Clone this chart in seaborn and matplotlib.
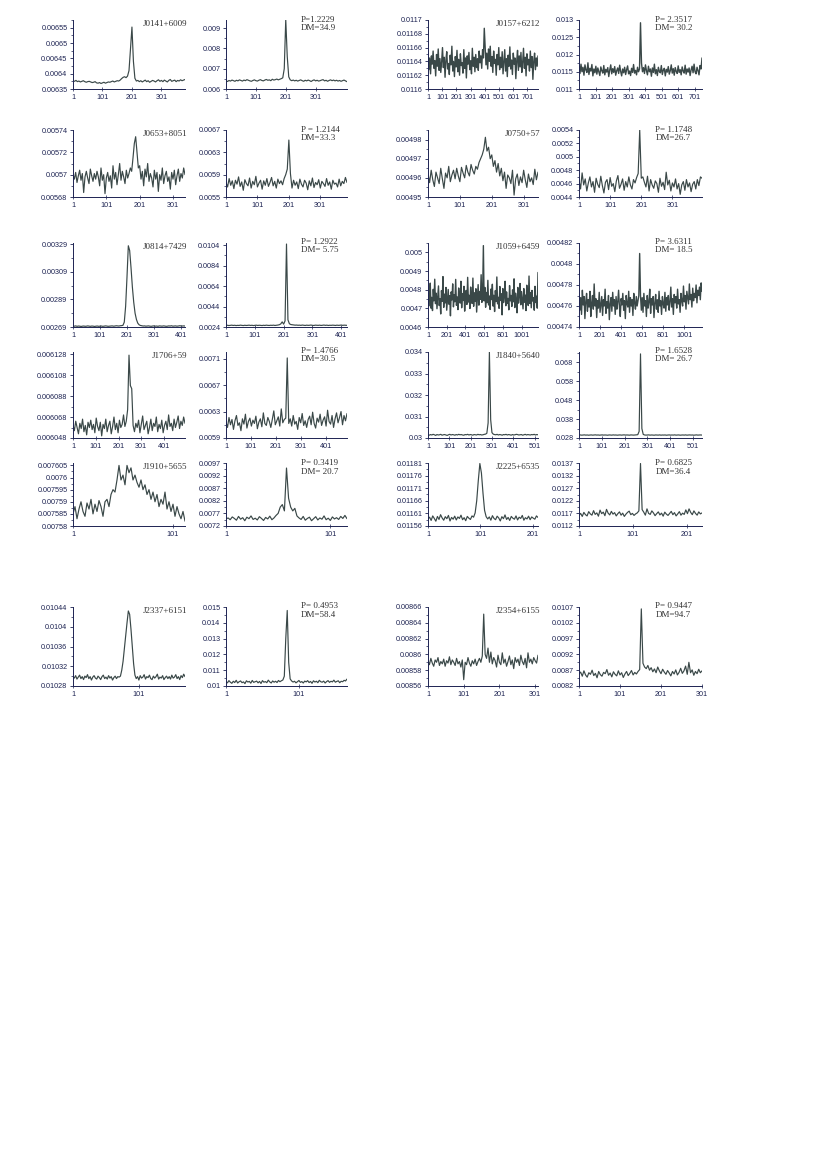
import numpy as np
import pandas as pd
import matplotlib
matplotlib.use("Agg")
import matplotlib.pyplot as plt
import seaborn as sns
from matplotlib.ticker import FixedLocator

sns.set_style("ticks")
plt.rcParams["font.family"] = ["Liberation Sans", "DejaVu Sans"]

# Folded pulse profiles (scaled integers, see unit per panel)
j0141_a = [6377, 6375, 6378, 6374, 6376, 6373, 6375, 6377, 6374, 6372, 6374, 6375, 6373, 6371, 6372, 6374,
           6370, 6369, 6371, 6368, 6370, 6372, 6369, 6371, 6373, 6372, 6374, 6376, 6373, 6375, 6377, 6376,
           6379, 6384, 6388, 6390, 6387, 6392, 6410, 6480, 6552, 6440, 6385, 6376,
           6378, 6374, 6377, 6373, 6376, 6379, 6374, 6377, 6372, 6375, 6378, 6376, 6373, 6377, 6380, 6375,
           6378, 6374, 6379, 6376, 6373, 6378, 6381, 6375, 6377, 6379, 6374, 6378, 6376, 6380, 6377, 6379, 6381]
j0141_b = [640, 637, 642, 639, 644, 641, 638, 643, 640, 645, 642, 639, 644, 641, 646, 643, 640, 638, 642, 645,
           641, 639, 643, 646, 642, 640, 644, 647, 643, 645, 641, 648, 644, 646, 649, 645, 648, 651,
           655, 700, 942, 760, 660, 645,
           641, 644, 640, 643, 639, 642, 645, 641, 638, 643, 640, 644, 641, 637, 642, 645, 640, 643, 639, 641,
           644, 646, 640, 643, 638, 642, 645, 641, 644, 640, 643, 639, 642, 638, 641, 644, 640, 636]
j0157_a = [11652, 11628, 11645, 11622, 11648, 11636, 11655, 11630, 11641, 11619,
           11650, 11633, 11658, 11627, 11644, 11624, 11639, 11660, 11631, 11646,
           11617, 11642, 11654, 11629, 11637, 11621, 11649, 11635, 11662, 11626,
           11640, 11618, 11647, 11632, 11656, 11625, 11643, 11620, 11651, 11634,
           11638, 11623, 11657, 11630, 11645, 11616, 11648, 11636, 11653, 11628,
           11641, 11622, 11659, 11633, 11646, 11625, 11650, 11631, 11644, 11627,
           11655, 11638, 11648, 11630, 11657, 11645,
           11688, 11660, 11635,
           11652, 11629, 11658, 11640, 11662, 11633, 11647, 11624, 11655, 11637,
           11643, 11620, 11650, 11635, 11660, 11628, 11646, 11631, 11654, 11622,
           11639, 11657, 11626, 11644, 11618, 11649, 11633, 11661, 11629, 11642,
           11621, 11652, 11636, 11645, 11615, 11640, 11656, 11627, 11648, 11632,
           11653, 11624, 11638, 11659, 11630, 11646, 11619, 11651, 11635, 11643,
           11626, 11655, 11631, 11647, 11614, 11640, 11652, 11628, 11645, 11633, 11648]
j0157_b = [1168, 1145, 1172, 1150, 1163, 1140, 1170, 1155, 1148, 1176,
           1142, 1160, 1152, 1171, 1138, 1158, 1147, 1166, 1143, 1161,
           1150, 1139, 1164, 1153, 1146, 1168, 1141, 1157, 1149, 1162,
           1136, 1155, 1170, 1144, 1159, 1148, 1165, 1140, 1153, 1161,
           1145, 1169, 1151, 1138, 1158, 1147, 1163, 1142, 1156, 1167,
           1144, 1152, 1139, 1160, 1148, 1171, 1146, 1154, 1141, 1163, 1150, 1158,
           1292, 1175, 1150,
           1162, 1145, 1170, 1153, 1141, 1166, 1150, 1158, 1137, 1161,
           1148, 1172, 1144, 1156, 1139, 1163, 1151, 1147, 1168, 1142,
           1155, 1160, 1138, 1157, 1149, 1165, 1143, 1153, 1170, 1146,
           1159, 1140, 1162, 1151, 1145, 1167, 1148, 1156, 1141, 1164,
           1152, 1146, 1169, 1143, 1158, 1149, 1161, 1139, 1155, 1166,
           1147, 1172, 1150, 1144, 1163, 1153, 1141, 1168, 1158, 1190]
j0653_a = [57000, 56960, 57020, 56930, 56990, 57040, 56950, 57010, 56840, 56980,
           57030, 56970, 56920, 57050, 56990, 56940, 57010, 56960, 57030, 56980,
           56900, 57060, 56950, 57000, 56830, 56970, 57020, 56940, 56990, 56880,
           57080, 56960, 57020, 56910, 57000, 57100, 56950, 57030, 56980, 56920,
           57040, 56970, 57010, 57060, 57030,
           57150, 57280, 57340, 57200, 57060,
           57080, 56960, 57030, 56900, 57050, 56980, 57100, 56940, 57010, 56970,
           56890, 57040, 56960, 57020, 56850, 57000, 56950, 57060, 56920, 56990,
           57030, 56940, 56980, 56870, 57020, 56960, 57040, 56910, 56990, 57050,
           56940, 57010, 56970, 57060, 57000]
j0653_b = [576, 568, 583, 571, 579, 565, 580, 573, 586, 569, 577, 562, 581, 574, 570, 584, 566, 578, 572, 587,
           568, 575, 580, 564, 579, 571, 583, 569, 576, 585, 570, 578, 566, 582, 574, 579, 572, 583,
           590, 600, 652, 592, 566, 580,
           571, 577, 565, 582, 573, 568, 580, 575, 563, 579, 570, 584, 567, 576, 572, 581, 566, 578, 574, 569,
           583, 571, 577, 564, 580, 573, 575, 568, 582, 570, 578, 574, 585, 576]
j0750_a = [49620, 49575, 49640, 49590, 49555, 49630, 49600, 49570, 49650, 49595,
           49545, 49625, 49600, 49660, 49580, 49615, 49640, 49595, 49650, 49610,
           49580, 49655, 49625, 49600, 49665, 49630, 49610, 49670, 49640, 49620,
           49660, 49645, 49680,
           49700, 49720, 49750, 49812, 49740, 49760, 49700, 49720, 49660, 49690, 49630, 49675,
           49610, 49650, 49585, 49630, 49545, 49615, 49600, 49570, 49640, 49510,
           49595, 49620, 49560, 49605, 49575, 49640, 49590, 49550, 49620, 49580,
           49600, 49565, 49645, 49590, 49630]
j0750_b = [465, 452, 476, 458, 467, 449, 461, 470, 455, 463, 447, 468, 459, 454, 471, 457, 446, 462, 466, 451,
           469, 456, 460, 448, 464, 472, 453, 459, 467, 450, 463, 455, 470, 458, 452, 466, 461, 469,
           475, 540, 468, 470,
           462, 455, 471, 449, 466, 458, 453, 464, 460, 447, 468, 456, 462, 451, 477, 458, 465, 449, 461, 455,
           467, 452, 460, 444, 458, 463, 450, 466, 455, 461, 448, 459, 463, 452, 466, 457, 470, 468]
j0814_a = [2697, 2696, 2698, 2695, 2697, 2696, 2694, 2696, 2697, 2695, 2696, 2698, 2696, 2695, 2697, 2696,
           2694, 2696, 2697, 2695, 2696, 2697, 2695, 2696, 2698, 2697, 2695, 2696, 2697, 2698, 2696, 2697,
           2699, 2698, 2697, 2699, 2700,
           2702, 2725, 2840, 3050, 3280, 3245, 3120, 2980, 2870, 2790, 2745, 2718, 2706, 2701,
           2699, 2697, 2698, 2696, 2697, 2698, 2696, 2695, 2697, 2698, 2696, 2697, 2695, 2698, 2697, 2696,
           2698, 2697, 2695, 2696, 2698, 2697, 2699, 2696, 2697, 2698, 2696, 2697, 2699, 2698, 2697, 2698, 2697]
j0814_b = [255, 257, 254, 256, 258, 255, 257, 254, 256, 255, 258, 256, 254, 257, 255, 256, 258, 255, 257, 254,
           256, 258, 255, 257, 256, 254, 257, 255, 258, 256, 255, 257, 256, 258, 255, 257, 259, 262, 270,
           290, 268, 300, 1050, 310, 272, 264,
           262, 260, 258, 259, 257, 258, 256, 259, 257, 255, 258, 256, 257, 259, 256, 255, 258, 257, 256, 258,
           255, 257, 259, 256, 258, 255, 257, 256, 258, 257, 255, 258, 256, 257, 259, 256, 258, 257, 256]
j1059_a = [4790, 4712, 4768, 4835, 4701, 4759, 4688, 4802, 4740, 4856,
           4725, 4781, 4698, 4763, 4820, 4715, 4752, 4670, 4795, 4738,
           4870, 4705, 4776, 4729, 4812, 4690, 4748, 4801, 4722, 4767,
           4660, 4788, 4745, 4831, 4708, 4772, 4735, 4855, 4716, 4761,
           4693, 4809, 4750, 4728, 4845, 4703, 4779, 4742, 4818, 4685,
           4757, 4796, 4721, 4866, 4734, 4770, 4699, 4814, 4744, 4726,
           4862, 4711, 4783, 4738, 4805, 4680, 4759, 4827, 4717, 4790,
           4748, 4880, 4732, 4775,
           5036,
           4740, 4812, 4706, 4785, 4730, 4850, 4718, 4766, 4694, 4803,
           4747, 4829, 4712, 4770, 4683, 4795, 4736, 4868, 4724, 4759,
           4700, 4817, 4742, 4778, 4665, 4806, 4731, 4762, 4845, 4714,
           4788, 4727, 4753, 4692, 4822, 4740, 4769, 4710, 4799, 4735,
           4858, 4704, 4781, 4746, 4676, 4812, 4728, 4764, 4833, 4719,
           4790, 4742, 4697, 4806, 4733, 4771, 4688, 4824, 4748, 4715,
           4873, 4726, 4783, 4703, 4796, 4739, 4757, 4690, 4818, 4731,
           4765, 4701, 4892]
j1059_b = [47700, 47560, 47680, 47520, 47750, 47610, 47690, 47480, 47640, 47720,
           47550, 47660, 47590, 47740, 47500, 47630, 47700, 47570, 47810, 47600,
           47670, 47490, 47650, 47580, 47730, 47540, 47620, 47690, 47510, 47660,
           47600, 47760, 47530, 47640, 47580, 47700, 47470, 47620, 47680, 47550,
           47730, 47600, 47660, 47520, 47690, 47570, 47640, 47750, 47590, 47500,
           47670, 47610, 47720, 47560, 47650, 47480, 47700, 47620, 47590, 47740,
           47540, 47680, 47600, 47660, 47510, 47720, 47630, 47570, 47690, 47600,
           47650, 47700,
           48100, 47700, 47560,
           47680, 47540, 47720, 47600, 47650, 47500, 47700, 47580, 47640, 47760,
           47530, 47670, 47610, 47690, 47490, 47630, 47710, 47570, 47660, 47540,
           47740, 47600, 47650, 47520, 47690, 47620, 47580, 47730, 47550, 47680,
           47610, 47700, 47560, 47640, 47780, 47590, 47670, 47520, 47710, 47630,
           47690, 47580, 47760, 47620, 47660, 47540, 47720, 47650, 47600, 47790,
           47640, 47700, 47570, 47740, 47680, 47620, 47810, 47660, 47710, 47590,
           47770, 47650, 47720, 47680, 47800, 47630, 47750, 47700, 47780, 47660,
           47820, 47740]
j1706_a = [60600, 60550, 60640, 60580, 60520, 60620, 60570, 60660, 60540, 60600,
           60510, 60630, 60580, 60650, 60560, 60610, 60530, 60670, 60590, 60550,
           60630, 60500, 60610, 60570, 60660, 60540, 60600, 60640, 60520, 60590,
           60680, 60560, 60620, 60530, 60650, 60580, 60610, 60700, 60590,
           60640, 60750, 61270, 60980, 60950, 60600, 60540,
           60620, 60580, 60650, 60530, 60610, 60690, 60560, 60600, 60640, 60520,
           60580, 60660, 60550, 60620, 60590, 60680, 60540, 60610, 60570, 60650,
           60530, 60600, 60640, 60560, 60700, 60590, 60620, 60550, 60660, 60580,
           60630, 60690, 60570, 60640, 60600, 60680, 60620]
j1706_b = [614, 606, 621, 610, 618, 603, 616, 624, 609, 613, 601, 619, 611, 626, 605, 615, 620, 608, 617, 612,
           623, 604, 614, 619, 607, 628, 612, 609, 621, 615, 606, 618, 631, 610, 616, 622, 608, 634, 613, 618,
           620, 711, 612,
           619, 608, 624, 611, 615, 603, 621, 613, 627, 609, 616, 606, 618, 623, 610, 629, 612, 605, 620, 614,
           626, 609, 617, 622, 608, 632, 615, 611, 624, 606, 619, 628, 613, 621, 630, 610, 624, 616, 627]
j1840_a = [3015, 3013, 3016, 3014, 3017, 3015, 3012, 3016, 3014, 3015, 3017, 3013, 3015, 3016, 3014, 3012,
           3015, 3017, 3014, 3016, 3015, 3013, 3016, 3014, 3017, 3015, 3016, 3014, 3013, 3016, 3015, 3017,
           3014, 3016, 3015, 3013, 3016, 3015, 3014, 3017, 3015, 3016, 3014, 3015, 3017, 3018, 3022,
           3070, 3400, 3085, 3025,
           3018, 3016, 3015, 3017, 3014, 3016, 3015, 3013, 3016, 3015, 3017, 3014, 3016, 3015, 3013, 3016,
           3014, 3015, 3017, 3016, 3014, 3015, 3016, 3013, 3015, 3017, 3014, 3016, 3015, 3014, 3016, 3015,
           3017, 3014, 3016, 3015]
j1840_b = [2955, 2962, 2950, 2958, 2965, 2952, 2960, 2948, 2957, 2963, 2951, 2959, 2966, 2954, 2961, 2949,
           2958, 2964, 2953, 2960, 2956, 2947, 2962, 2958, 2951, 2965, 2955, 2960, 2949, 2957, 2963, 2952,
           2959, 2966, 2954, 2961, 2956, 2950, 2964, 2958, 2953, 2960, 2967, 2975,
           3150, 7250, 3300, 2990,
           2960, 2953, 2958, 2965, 2951, 2960, 2956, 2948, 2962, 2957, 2953, 2964, 2950, 2959, 2955, 2961,
           2948, 2957, 2963, 2952, 2960, 2954, 2966, 2951, 2958, 2962, 2949, 2956, 2961, 2953, 2965, 2950,
           2958, 2963, 2955, 2960, 2948, 2957, 2964, 2952, 2959, 2961, 2955]
j1910_a = [75850, 75880, 75830, 75870, 75900, 75860, 75840, 75895, 75870, 75910, 75850, 75890, 75860, 75905,
           75880, 75840, 75900,
           75910, 75880, 75930, 75950, 75940, 75990,
           76050, 75990, 76010, 75970, 76050, 76020, 76040, 75990, 76010,
           75980, 75960, 75990, 75950, 75970, 75930, 75950, 75910, 75940,
           75900, 75930, 75880, 75910, 75890, 75940, 75870, 75900, 75860, 75890, 75840, 75880, 75850, 75830,
           75860, 75820]
j1910_b = [748, 752, 745, 756, 750, 743, 758, 747, 753, 741, 755, 749, 760, 746, 751, 744, 757, 750, 742, 754,
           748, 759, 745, 752, 762, 770,
           795, 805, 780, 950, 830, 795, 780, 790, 760,
           752, 746, 758, 743, 750, 755, 741, 749, 757, 744, 752, 747, 760, 745, 751, 742, 756, 748, 753, 746,
           758, 750, 762, 749]
j2225_a = [11588, 11595, 11582, 11600, 11590, 11579, 11598, 11586, 11605, 11592, 11583, 11597, 11589, 11602,
           11580, 11594, 11587, 11599, 11584, 11596, 11590, 11603, 11585, 11593, 11581, 11598, 11591, 11586,
           11600, 11595,
           11612, 11660, 11740, 11808, 11770, 11690, 11622, 11597,
           11588, 11596, 11583, 11601, 11590, 11585, 11599, 11592, 11580, 11597, 11589, 11604, 11586, 11594,
           11582, 11598, 11591, 11587, 11600, 11584, 11595, 11590, 11602, 11583, 11593, 11588, 11599, 11585,
           11596, 11591, 11587, 11600, 11594]
j2225_b = [1162, 1170, 1158, 1174, 1165, 1160, 1177, 1168, 1163, 1181, 1166, 1172, 1159, 1183, 1169, 1175,
           1161, 1186, 1171, 1164, 1178, 1167, 1173, 1160, 1169, 1176, 1163, 1171, 1158, 1167, 1174, 1179,
           1165, 1170, 1162, 1168, 1172,
           1180, 1368, 1185, 1175,
           1163, 1188, 1170, 1166, 1180, 1172, 1161, 1169, 1176, 1164, 1171, 1159, 1175, 1167, 1162, 1170,
           1178, 1165, 1173, 1160, 1168, 1177, 1163, 1171, 1166, 1184, 1169, 1188, 1174, 1165, 1180, 1170,
           1163, 1176, 1168, 1172]
j2337_a = [102990, 102960, 103010, 102940, 102980, 103020, 102950, 102990, 102930, 103000,
           102970, 103030, 102950, 102990, 102920, 102980, 103010, 102960, 102940, 103000,
           102970, 102930, 102990, 103020, 102950, 102980, 102940, 103010, 102960, 102990,
           102920, 102970, 103000, 102950, 102990, 102980,
           103000, 103120, 103300, 103560, 103820, 104080, 104320, 104250, 103950, 103600, 103250, 103020,
           102950, 102990, 102920, 103010, 102960, 102980, 103030, 102940, 102990, 102970,
           103020, 102950, 102930, 103000, 102960, 102990, 103040, 102940, 102980, 102960,
           103010, 102930, 102970, 103000, 102950, 102990, 102940, 103020, 102960, 102980,
           103030, 102950, 102990, 102930, 103010, 102970, 103040, 102990]
j2337_b = [1028, 1020, 1034, 1024, 1017, 1030, 1022, 1036, 1019, 1027, 1032, 1021, 1026, 1015, 1033, 1025,
           1029, 1018, 1035, 1023, 1027, 1031, 1020, 1029, 1016, 1034, 1024, 1028, 1021, 1037, 1026, 1019,
           1032, 1024, 1030, 1022, 1035, 1027, 1033, 1038,
           1062, 1300, 1478, 1150, 1045,
           1032, 1025, 1030, 1020, 1027, 1035, 1023, 1028, 1019, 1031, 1026, 1034, 1022, 1029, 1017, 1033,
           1025, 1030, 1021, 1036, 1027, 1024, 1031, 1019, 1028, 1034, 1023, 1030, 1026, 1037, 1024, 1029,
           1033, 1021, 1030, 1027, 1036, 1032, 1044]
j2354_a = [85920, 85870, 85950, 85890, 85850, 85930, 85900, 85960, 85860, 85910,
           85880, 85940, 85850, 85920, 85890, 85970, 85870, 85930, 85900, 85860,
           85950, 85880, 85910, 85840, 85930, 85680, 85900, 85870, 85960, 85890,
           85850, 85920, 85880, 85940, 85860, 85910, 85950, 85900, 85980,
           86510, 86000, 85950, 86080, 85900, 86030,
           85880, 85960, 85920, 85840, 85990, 85900, 85870, 86020, 85890, 85940,
           85850, 85910, 85980, 85870, 85930, 85820, 85960, 85900, 85940, 85860,
           85990, 85910, 85870, 85950, 85830, 86020, 85900, 85940, 85880, 85960, 85920, 85890, 85990]
j2354_b = [858, 864, 851, 868, 855, 848, 862, 857, 870, 853, 860, 846, 866, 856, 851, 863, 859, 872, 854, 861,
           849, 865, 857, 852, 868, 855, 862, 847, 858, 866, 853, 860, 869, 855, 863, 858, 866, 872,
           1064, 892, 880, 875, 885,
           870, 878, 865, 874, 862, 880, 868, 859, 873, 864, 857, 869, 861, 852, 866, 858, 871, 855, 863, 876,
           860, 868, 883, 857, 895, 862, 871, 854, 866, 859, 873, 862, 868]

# y tick labels, x tick labels and captions
yt = {
    "j0141_a": ["0.00635", "0.0064", "0.00645", "0.0065", "0.00655"],
    "j0141_b": ["0.006", "0.007", "0.008", "0.009"],
    "j0157_a": ["0.0116", "0.01162", "0.01164", "0.01166", "0.01168", "0.0117"],
    "j0157_b": ["0.011", "0.0115", "0.012", "0.0125", "0.013"],
    "j0653_a": ["0.00568", "0.0057", "0.00572", "0.00574"],
    "j0653_b": ["0.0055", "0.0059", "0.0063", "0.0067"],
    "j0750_a": ["0.00495", "0.00496", "0.00497", "0.00498"],
    "j0750_b": ["0.0044", "0.0046", "0.0048", "0.005", "0.0052", "0.0054"],
    "j0814_a": ["0.00269", "0.00289", "0.00309", "0.00329"],
    "j0814_b": ["0.0024", "0.0044", "0.0064", "0.0084", "0.0104"],
    "j1059_a": ["0.0046", "0.0047", "0.0048", "0.0049", "0.005"],
    "j1059_b": ["0.00474", "0.00476", "0.00478", "0.0048", "0.00482"],
    "j1706_a": ["0.006048", "0.006068", "0.006088", "0.006108", "0.006128"],
    "j1706_b": ["0.0059", "0.0063", "0.0067", "0.0071"],
    "j1840_a": ["0.03", "0.031", "0.032", "0.033", "0.034"],
    "j1840_b": ["0.028", "0.038", "0.048", "0.058", "0.068"],
    "j1910_a": ["0.00758", "0.007585", "0.00759", "0.007595", "0.0076", "0.007605"],
    "j1910_b": ["0.0072", "0.0077", "0.0082", "0.0087", "0.0092", "0.0097"],
    "j2225_a": ["0.01156", "0.01161", "0.01166", "0.01171", "0.01176", "0.01181"],
    "j2225_b": ["0.0112", "0.0117", "0.0122", "0.0127", "0.0132", "0.0137"],
    "j2337_a": ["0.01028", "0.01032", "0.01036", "0.0104", "0.01044"],
    "j2337_b": ["0.01", "0.011", "0.012", "0.013", "0.014", "0.015"],
    "j2354_a": ["0.00856", "0.00858", "0.0086", "0.00862", "0.00864", "0.00866"],
    "j2354_b": ["0.0082", "0.0087", "0.0092", "0.0097", "0.0102", "0.0107"],
}
y_top = {
    "j0141_a": 0.006575, "j0141_b": 0.0094, "j0157_a": 0.0117, "j0157_b": 0.013,
    "j0653_a": 0.00574, "j0653_b": 0.0067, "j0750_a": 0.004985, "j0750_b": 0.0054,
    "j0814_a": 0.0033, "j0814_b": 0.0106, "j1059_a": 0.00505, "j1059_b": 0.00482,
    "j1706_a": 0.00613, "j1706_b": 0.0072, "j1840_a": 0.034, "j1840_b": 0.0735,
    "j1910_a": 0.007606, "j1910_b": 0.0097, "j2225_a": 0.01181, "j2225_b": 0.0137,
    "j2337_a": 0.01044, "j2337_b": 0.015, "j2354_a": 0.00866, "j2354_b": 0.0107,
}
xt_400 = [1, 101, 201, 301]
xt_700 = [1, 101, 201, 301, 401, 501, 601, 701]
xt_401 = [1, 101, 201, 301, 401]
xt_1001 = [1, 201, 401, 601, 801, 1001]
xt_501 = [1, 101, 201, 301, 401, 501]
xt_101 = [1, 101]
xt_201 = [1, 101, 201]

names = ["J0141+6009", "J0157+6212", "J0653+8051", "J0750+57", "J0814+7429", "J1059+6459",
         "J1706+59", "J1840+5640", "J1910+5655", "J2225+6535", "J2337+6151", "J2354+6155"]
periods = ["P=1.2229", "P= 2.3517", "P = 1.2144", "P= 1.1748", "P= 1.2922", "P= 3.6311",
           "P= 1.4766", "P= 1.6528", "P= 0.3419", "P= 0.6825", "P= 0.4953", "P= 0.9447"]
dms = ["DM=34.9", "DM= 30.2", "DM=33.3", "DM=26.7", "DM= 5.75", "DM= 18.5",
       "DM=30.5", "DM= 26.7", "DM= 20.7", "DM=36.4", "DM=58.4", "DM=94.7"]

# (key, values, unit, bin spacing, x ticks)
pairs = [
    (("j0141_a", j0141_a, 1e-6, 5, xt_400), ("j0141_b", j0141_b, 1e-5, 5, xt_400)),
    (("j0157_a", j0157_a, 1e-6, 6, xt_700), ("j0157_b", j0157_b, 1e-5, 6, xt_700)),
    (("j0653_a", j0653_a, 1e-7, 4, xt_400), ("j0653_b", j0653_b, 1e-5, 5, xt_400)),
    (("j0750_a", j0750_a, 1e-7, 5, xt_400), ("j0750_b", j0750_b, 1e-5, 5, xt_400)),
    (("j0814_a", j0814_a, 1e-6, 5, xt_401), ("j0814_b", j0814_b, 1e-5, 5, xt_401)),
    (("j1059_a", j1059_a, 1e-6, 8, xt_1001), ("j1059_b", j1059_b, 1e-7, 8, xt_1001)),
    (("j1706_a", j1706_a, 1e-7, 6, xt_401), ("j1706_b", j1706_b, 1e-5, 6, xt_401)),
    (("j1840_a", j1840_a, 1e-5, 6, xt_501), ("j1840_b", j1840_b, 1e-5, 6, xt_501)),
    (("j1910_a", j1910_a, 1e-7, 2, xt_101), ("j1910_b", j1910_b, 1e-5, 2, xt_101)),
    (("j2225_a", j2225_a, 1e-6, 3, xt_201), ("j2225_b", j2225_b, 1e-5, 3, xt_201)),
    (("j2337_a", j2337_a, 1e-7, 2, xt_101), ("j2337_b", j2337_b, 1e-5, 2, xt_101)),
    (("j2354_a", j2354_a, 1e-7, 4, xt_400), ("j2354_b", j2354_b, 1e-5, 4, xt_400)),
]
dense = {"j0157_a", "j0157_b", "j1059_a", "j1059_b"}

INK = "#1d2352"
LINE = "#3a4848"
SERIF = ["Liberation Serif", "DejaVu Serif"]

# pixel layout of the page (830 x 1174)
W, H = 830, 1174
rows = [(20, 89), (130, 197), (243, 327), (352, 438), (463, 526), (607, 686)]
cols = [(73, 185), (226, 347), (428, 538), (579, 702)]


def draw_panel(ax, key, vals, unit, step, xticks):
    flux = np.asarray(vals, dtype=float) * unit
    df = pd.DataFrame({"bin": 1 + step * np.arange(len(flux)), "flux": flux})
    sns.lineplot(data=df, x="bin", y="flux", ax=ax, color=LINE,
                 linewidth=1.0 if key in dense else 0.85, estimator=None, errorbar=None)
    labels = yt[key]
    ticks = [float(s) for s in labels]
    ax.set_xlim(1, df["bin"].iloc[-1])
    ax.set_ylim(ticks[0], y_top[key])
    ax.set_yticks(ticks)
    ax.set_yticklabels(labels)
    mids = [(a + b) / 2 for a, b in zip(ticks[:-1], ticks[1:])]
    if ticks[-1] + (ticks[1] - ticks[0]) / 2 <= y_top[key] + 1e-12:
        mids.append(ticks[-1] + (ticks[1] - ticks[0]) / 2)
    ax.yaxis.set_minor_locator(FixedLocator(mids))
    ax.set_xticks(xticks)
    ax.set_xticklabels([str(v) for v in xticks])
    ax.set_xlabel("")
    ax.set_ylabel("")
    for s in ("top", "right"):
        ax.spines[s].set_visible(False)
    for s in ("left", "bottom"):
        ax.spines[s].set_color(INK)
        ax.spines[s].set_linewidth(0.7)
    ax.tick_params(axis="y", which="major", length=2.5, width=0.6, color=INK,
                   labelsize=5.2, labelcolor=INK, pad=1.5)
    ax.tick_params(axis="y", which="minor", length=1.5, width=0.5, color=INK)
    ax.tick_params(axis="x", which="major", length=2.5, width=0.5, color=INK, direction="inout",
                   labelsize=5.2, labelcolor=INK, pad=2)
    ax.set_facecolor("none")


fig = plt.figure(figsize=(W / 100, H / 100), dpi=100)

for i, pair in enumerate(pairs):
    r = i // 2
    top, bot = rows[r]
    for j, spec in enumerate(pair):
        left, right = cols[(i % 2) * 2 + j]
        ax = fig.add_axes([left / W, 1 - bot / H, (right - left) / W, (bot - top) / H])
        draw_panel(ax, *spec)
        if j == 0:
            ax.text(1.02, 1.0, names[i], transform=ax.transAxes, ha="right", va="top",
                    fontsize=6.5, family=SERIF, color="#333333")
        else:
            ax.text(0.62, 1.06, periods[i] + "\n" + dms[i], transform=ax.transAxes,
                    ha="left", va="top", fontsize=6.5, family=SERIF, color="#333333",
                    linespacing=1.05)

fig.savefig("out.png", dpi=100, facecolor="white")
